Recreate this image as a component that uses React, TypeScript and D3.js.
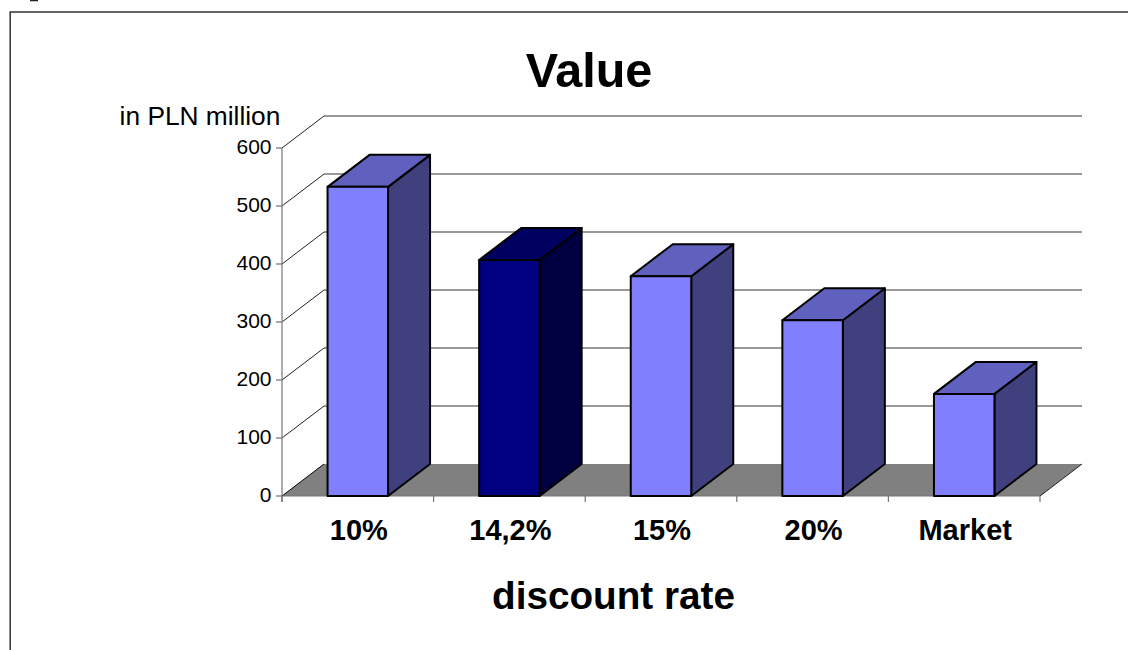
import React from "react";
import * as d3 from "d3";

const categories = ["10%", "14,2%", "15%", "20%", "Market"];
const values = [533, 407, 379, 303, 176];
const highlighted = ["14,2%"];
const yTicks = [0, 100, 200, 300, 400, 500, 600];

const FONT = "'Liberation Sans', Arial, sans-serif";
const W = 1128, H = 650;
const x0 = 282, x1 = 1040, yB = 496, yT = 148;
const DX = 42, DY = 32;
const BAR_W = 60.5;

const y = d3.scaleLinear().domain([0, 600]).range([yB, yT]);
const xBand = d3.scaleBand<string>().domain(categories).range([x0, x1]);
const pts = (a: [number, number][]) => a.map((p) => p.join(",")).join(" ");

export default function App() {
  const floor: [number, number][] = [[x0, yB], [x1, yB], [x1 + DX, yB - DY], [x0 + DX, yB - DY]];
  return (
    <svg width={W} height={H} style={{ position: "absolute", left: 0, top: 0, display: "block" }} fontFamily={FONT}>
      <rect width={W} height={H} fill="#fff" />
      <line x1={30} x2={38} y1={0.5} y2={0.5} stroke="#222" strokeWidth={1.5} />
      <path d={`M10.2,${H + 5}V12H${W + 5}`} fill="none" stroke="#333" strokeWidth={1.5} />

      <polygon points={pts(floor)} fill="#808080" />
      {yTicks.map((t) => (
        <g key={t}>
          {t > 0 && (
            <line x1={x0 + DX} y1={y(t) - DY} x2={x1 + DX} y2={y(t) - DY} stroke="#777" strokeWidth={1.4} />
          )}
          {t > 0 && <line x1={x0} y1={y(t)} x2={x0 + DX} y2={y(t) - DY} stroke="#222" strokeWidth={1} />}
          <line x1={x0 - 6} x2={x0} y1={y(t)} y2={y(t)} stroke="#555" />
          <text x={x0 - 10.5} y={y(t) + 6} textAnchor="end" fontSize={21} fill="#000">{t}</text>
        </g>
      ))}
      <line x1={x0} x2={x0} y1={yT} y2={yB + 6} stroke="#777" strokeWidth={1.2} />
      <line x1={x0} x2={x0 + DX} y1={yB} y2={yB - DY} stroke="#000" />
      <line x1={x0} x2={x1} y1={yB} y2={yB} stroke="#777" strokeWidth={1.2} />
      <line x1={x1} x2={x1 + DX} y1={yB} y2={yB - DY} stroke="#222" />
      {[...categories.map((c) => xBand(c) as number), x1].map((t, i) => (
        <line key={i} x1={t} x2={t} y1={yB} y2={yB + 6} stroke="#777" strokeWidth={1.2} />
      ))}

      {categories.map((c, i) => {
        const cx = (xBand(c) as number) + xBand.bandwidth() / 2;
        const l = cx - BAR_W / 2;
        const r = cx + BAR_W / 2;
        const t = y(values[i]);
        const dark = highlighted.includes(c);
        const front = dark ? "#000080" : "#8080ff";
        const top = dark ? "#000060" : "#6060bf";
        const side = dark ? "#000040" : "#40407f";
        return (
          <g key={c} stroke="#000" strokeWidth={2} strokeLinejoin="round">
            <polygon points={pts([[r, yB], [r + DX, yB - DY], [r + DX, t - DY], [r, t]])} fill={side} />
            <polygon points={pts([[l, t], [r, t], [r + DX, t - DY], [l + DX, t - DY]])} fill={top} />
            <rect x={l} y={t} width={BAR_W} height={yB - t} fill={front} />
          </g>
        );
      })}

      <text x={589} y={87} textAnchor="middle" fontSize={48.5} fontWeight={700} fill="#000">Value</text>
      <text x={200} y={125} textAnchor="middle" fontSize={26.3} fill="#000">in PLN million</text>
      {categories.map((c) => (
        <text key={c} x={(xBand(c) as number) + xBand.bandwidth() / 2 + 1} y={540} textAnchor="middle" fontSize={29} fontWeight={700} fill="#000">{c}</text>
      ))}
      <text x={613.5} y={609} textAnchor="middle" fontSize={38.7} fontWeight={700} fill="#000">discount rate</text>
    </svg>
  );
}
